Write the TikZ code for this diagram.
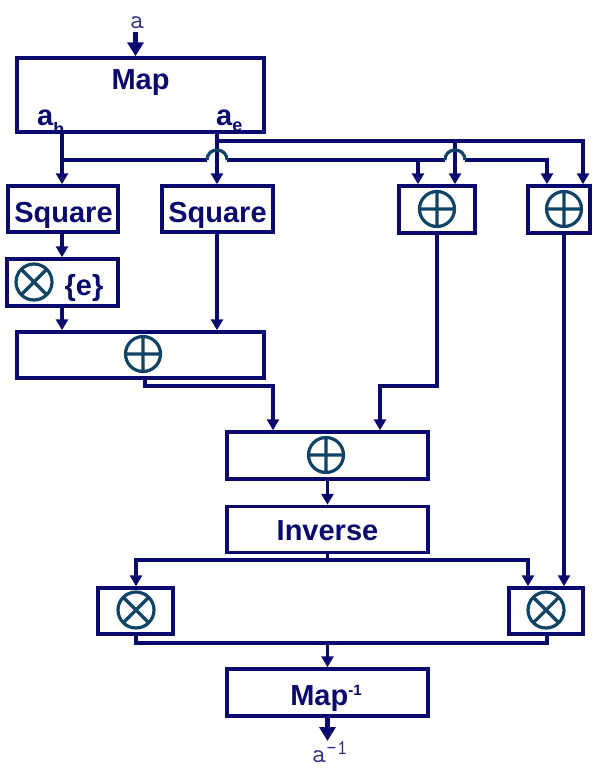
\documentclass[tikz,border=0pt]{standalone}
\usepackage{fontspec}
\setmainfont{Liberation Sans}
\usetikzlibrary{arrows.meta}
\definecolor{navy}{HTML}{0A0A6E}
\definecolor{tealc}{HTML}{0F4466}
\newcommand\symplus[1]{\draw[sym] (#1) circle[radius=17.5pt] (#1) ++(-17.5,0) -- ++(35,0) (#1) ++(0,-17.5) -- ++(0,35);}
\newcommand\symtimes[1]{\draw[sym] (#1) circle[radius=18pt] (#1) ++(-12.7,-12.7) -- ++(25.4,25.4) (#1) ++(-12.7,12.7) -- ++(25.4,-25.4);}
\begin{document}
\begin{tikzpicture}[x=1pt,y=-1pt,
  box/.style={draw=navy,line width=3.5pt,inner sep=0pt},
  lbl/.style={text=navy,font=\fontsize{29}{30}\selectfont\bfseries,inner sep=0pt,anchor=base},
  mono/.style={text=navy!85,font=\ttfamily\fontsize{27}{27}\selectfont,inner sep=0pt},
  arr/.style={draw=navy,line width=3.5pt,-{Triangle[length=11pt,width=12pt]}},
  bigarr/.style={draw=navy,line width=5pt,-{Triangle[length=14pt,width=16pt]}},
  wire/.style={draw=navy,line width=3.5pt},
  hop/.style={draw=tealc,line width=3.2pt},
  sym/.style={draw=tealc,line width=3.2pt}]
\useasboundingbox (0,0) rectangle (593,769);

% boxes
\node[box,minimum width=247pt,minimum height=74pt] (map) at (140.5,95) {};
\node[box,minimum width=110pt,minimum height=46pt] (sq1) at (63,209) {};
\node[box,minimum width=111pt,minimum height=46pt] (sq2) at (217.5,209) {};
\node[box,minimum width=76pt,minimum height=47pt] (px1) at (437,209.5) {};
\node[box,minimum width=62pt,minimum height=47pt] (px2) at (559,209.5) {};
\node[box,minimum width=111pt,minimum height=47pt] (mule) at (62.5,282.5) {};
\node[box,minimum width=247pt,minimum height=46pt] (add1) at (140.5,355) {};
\node[box,minimum width=201pt,minimum height=47pt] (add2) at (327.5,455.5) {};
\node[box,minimum width=201pt,minimum height=46pt] (inv) at (327.5,529.5) {};
\node[box,minimum width=75pt,minimum height=46pt] (mul1) at (135.5,611) {};
\node[box,minimum width=74pt,minimum height=46pt] (mul2) at (546,611) {};
\node[box,minimum width=201pt,minimum height=47pt] (mapi) at (327.5,692.5) {};

% texts
\node[lbl] (tmap) at (140.5,89) {Map};
\begin{scope}
\clip (18.5,59.5) rectangle (262.5,130.3);
\node[lbl,anchor=base west] (tah) at (37,125) {a\raisebox{-10pt}{\fontsize{18}{18}\selectfont h}};
\node[lbl,anchor=base west] (tae) at (216,125) {a\raisebox{-6pt}{\fontsize{18}{18}\selectfont e}};
\end{scope}
\node[lbl] (tsq1) at (63.5,222) {Square};
\node[lbl] (tsq2) at (217.5,222) {Square};
\node[lbl] (te) at (84,295) {\{e\}};
\node[lbl] (tinv) at (327.5,540) {Inverse};
\node[lbl] (tmapi) at (326,705) {Map\raisebox{10pt}{\fontsize{15}{15}\selectfont -1}};
\node[mono,anchor=base] (ain) at (137,28) {a};
\node[mono,anchor=base west] (aout) at (312,762) {a\raisebox{8pt}{\fontsize{21}{21}\selectfont -1}};

% symbols
\coordinate (s1) at (437,209); \symplus{s1}
\coordinate (s2) at (564,209); \symplus{s2}
\coordinate (s3) at (143,354); \symplus{s3}
\coordinate (s4) at (326,455); \symplus{s4}
\coordinate (s5) at (34,282); \symtimes{s5}
\coordinate (s6) at (136,610); \symtimes{s6}
\coordinate (s7) at (546,610); \symtimes{s7}

% coordinates
\coordinate (h0) at (62,160);
\coordinate (hA1) at (207,160); \coordinate (hA2) at (227,160);
\coordinate (hB1) at (445,160); \coordinate (hB2) at (465,160);
\coordinate (b1) at (418,160); \coordinate (b2) at (547,160);
\coordinate (e0) at (217,141); \coordinate (e1) at (455,141); \coordinate (e2) at (583,141);
\coordinate (f0) at (145,386); \coordinate (f1) at (273,386);
\coordinate (g0) at (437,386); \coordinate (g1) at (380,386);
\coordinate (kM) at (327.5,560); \coordinate (kL) at (136,560); \coordinate (kR) at (528,560);
\coordinate (q) at (564,400);
\coordinate (mL) at (136,643); \coordinate (mR) at (547,643); \coordinate (mM) at (327.5,643);
\coordinate (outend) at (327.5,741);
\coordinate (instart) at (135.5,32);

% connectors
\draw[bigarr] (instart) -- (instart |- map.north);
\draw[arr] (map.south -| h0) -- (h0 |- sq1.north);
\draw[arr] (map.south -| e0) -- (e0 |- sq2.north);
\draw[arr] (e0) -- (e2) -- (e2 |- px2.north);
\draw[arr] (e1) -- (e1 |- px1.north);
\draw[arr] (h0) -- (hA1) (hA2) -- (hB1) (hB2) -- (b2) -- (b2 |- px2.north);
\draw[arr] (b1) -- (b1 |- px1.north);
\draw[hop] (hA1) .. controls (207,146.7) and (227,146.7) .. (hA2);
\draw[hop] (hB1) .. controls (445,146.7) and (465,146.7) .. (hB2);
\draw[arr] (sq1.south -| h0) -- (h0 |- mule.north);
\draw[arr] (mule.south -| h0) -- (h0 |- add1.north);
\draw[arr] (sq2.south -| e0) -- (e0 |- add1.north);
\draw[arr] (add1.south -| f0) -- (f0) -- (f1) -- (f1 |- add2.north);
\draw[arr] (px1.south -| g0) -- (g0) -- (g1) -- (g1 |- add2.north);
\draw[arr] (add2.south) -- (inv.north);
\draw[wire] (inv.south) -- (kM);
\draw[arr] (kM) -- (kL) -- (kL |- mul1.north);
\draw[arr] (kM) -- (kR) -- (kR |- mul2.north);
\draw[arr] (px2.south -| q) -- (q |- mul2.north);
\draw[wire] (mul1.south -| mL) -- (mL) -- (mR) -- (mR |- mul2.south);
\draw[arr] (mM) -- (mapi.north);
\draw[bigarr] (mapi.south) -- (outend);
\end{tikzpicture}
\end{document}
